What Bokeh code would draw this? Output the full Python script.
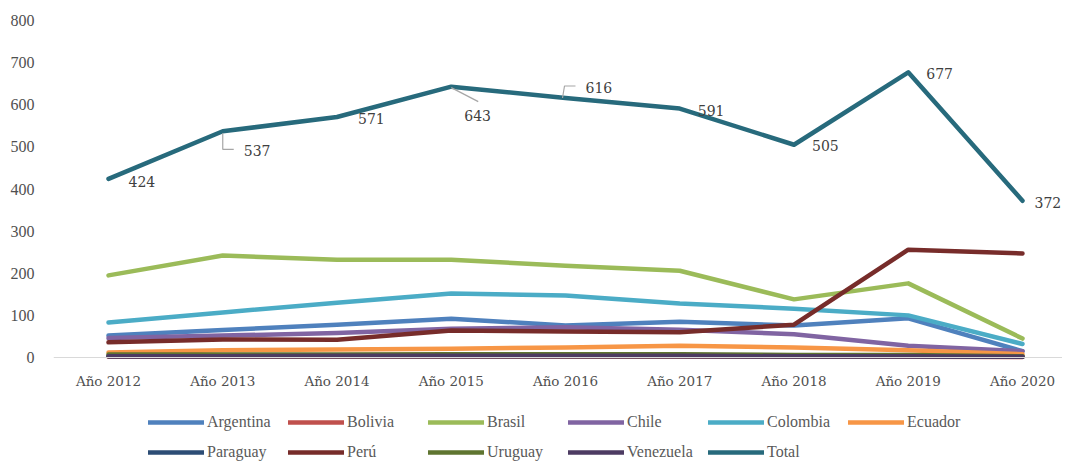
from bokeh.plotting import figure
from bokeh.models import ColumnDataSource, Range1d, FixedTicker, Legend, LegendItem, Span
from bokeh.embed import file_html
from bokeh.resources import INLINE
from bokeh.core.properties import value

# ---------------- data ----------------
years = ["Año 2012", "Año 2013", "Año 2014", "Año 2015", "Año 2016",
         "Año 2017", "Año 2018", "Año 2019", "Año 2020"]
argentina = [52, 65, 78, 92, 76, 85, 76, 93, 15]
bolivia = [2, 2, 2, 2, 2, 2, 2, 2, 1]
brasil = [195, 242, 232, 232, 218, 206, 138, 176, 45]
chile = [46, 52, 58, 68, 72, 66, 55, 28, 15]
colombia = [83, 107, 130, 152, 147, 128, 116, 100, 32]
ecuador = [12, 17, 19, 21, 24, 28, 24, 17, 8]
paraguay = [3, 3, 3, 3, 3, 3, 3, 3, 2]
peru = [36, 43, 42, 64, 62, 60, 78, 256, 247]
uruguay = [7, 7, 7, 8, 8, 8, 6, 6, 3]
venezuela = [3, 3, 4, 4, 4, 4, 3, 3, 2]
total = [424, 537, 571, 643, 616, 591, 505, 677, 372]
y_ticks = [0, 100, 200, 300, 400, 500, 600, 700, 800]

series_names = ["Argentina", "Bolivia", "Brasil", "Chile", "Colombia", "Ecuador",
                "Paraguay", "Perú", "Uruguay", "Venezuela", "Total"]
series_values = [argentina, bolivia, brasil, chile, colombia, ecuador,
                 paraguay, peru, uruguay, venezuela, total]

# ---------------- styles ----------------
colors = ["#4F81BD", "#C0504D", "#9BBB59", "#8064A2", "#4BACC6", "#F79646",
          "#2C4D75", "#772C2A", "#5F7530", "#4D3B62", "#276A7C"]
label_dx = [20, 21, 21, 13, 20, 18, 18, 18, 12]
label_dy = [3, 19, 2, 29, -11, 2, 1, 1, 2]

W, H = 1062, 463
LEFT, TOP = 53, 20
X0 = -0.4814
PX_PER_X = 114.25
X1 = X0 + (W - LEFT) / PX_PER_X
PX_PER_Y = 337.0 / 800.0
Y0 = -(H - 357) / PX_PER_Y

x = list(range(len(years)))

p = figure(width=W, height=H, output_backend="svg", toolbar_location=None,
           x_range=Range1d(X0, X1), y_range=Range1d(Y0, 800),
           min_border_left=LEFT, min_border_right=0, min_border_top=TOP,
           min_border_bottom=0)
p.outline_line_color = None
p.xgrid.visible = False
p.ygrid.visible = False
p.background_fill_color = "white"
p.border_fill_color = "white"

# baseline (category axis line)
p.add_layout(Span(location=0, dimension="width", line_color="#D9D9D9", line_width=1))

renderers = []
for name, vals, col in zip(series_names, series_values, colors):
    src = ColumnDataSource(dict(x=x, y=vals))
    r = p.line("x", "y", source=src, line_color=col, line_width=4.5,
               line_join="round", line_cap="round")
    renderers.append((name, r))

# leader lines (pixel offsets converted to data units)
px_x = 1.0 / PX_PER_X
px_y = 1.0 / PX_PER_Y
lead_xs = [
    [1, 1, 1 + 11 * px_x],
    [3, 3 + 27 * px_x],
    [4 - 3 * px_x, 4 - 1 * px_x, 4 + 10 * px_x],
]
lead_ys = [
    [total[1] - 2 * px_y, total[1] - 18 * px_y, total[1] - 18 * px_y],
    [total[3] - 1 * px_y, total[3] - 15 * px_y],
    [total[4], total[4] + 12 * px_y, total[4] + 12 * px_y],
]
p.multi_line(lead_xs, lead_ys, line_color="#A6A6A6", line_width=1.2)

lab_src = ColumnDataSource(dict(x=x, y=total, t=[str(v) for v in total],
                                dx=label_dx, dy=label_dy))
p.text("x", "y", text="t", source=lab_src, x_offset="dx", y_offset="dy",
       text_align="left", text_baseline="middle",
       text_font=value("DejaVu Serif"), text_font_size="14px",
       text_color="#404040")

# category labels under the baseline
cat_src = ColumnDataSource(dict(x=x, y=[0] * len(x), t=years))
p.text("x", "y", text="t", source=cat_src, y_offset=23,
       text_align="center", text_baseline="middle",
       text_font=value("DejaVu Serif"), text_font_size="13.5px",
       text_color="#505050")

# axes
p.xaxis.visible = False
p.yaxis.ticker = FixedTicker(ticks=y_ticks)
p.yaxis.axis_line_color = None
p.yaxis.major_tick_line_color = None
p.yaxis.minor_tick_line_color = None
p.yaxis.major_label_standoff = 13
p.yaxis.major_label_text_font = "serif"
p.yaxis.major_label_text_font_size = "16px"
p.yaxis.major_label_text_color = "#505050"

legend = Legend(items=[LegendItem(label=n, renderers=[r]) for n, r in renderers],
                orientation="horizontal", ncols=6, location=(148 - LEFT, 0),
                glyph_width=56, glyph_height=22, label_standoff=3,
                label_width=73, label_height=22, spacing=8, padding=0, margin=0,
                border_line_color=None, background_fill_alpha=0,
                label_text_font="serif", label_text_font_size="16px",
                label_text_color="#595959")
p.add_layout(legend)

open("out.html", "w").write(file_html(p, INLINE))
